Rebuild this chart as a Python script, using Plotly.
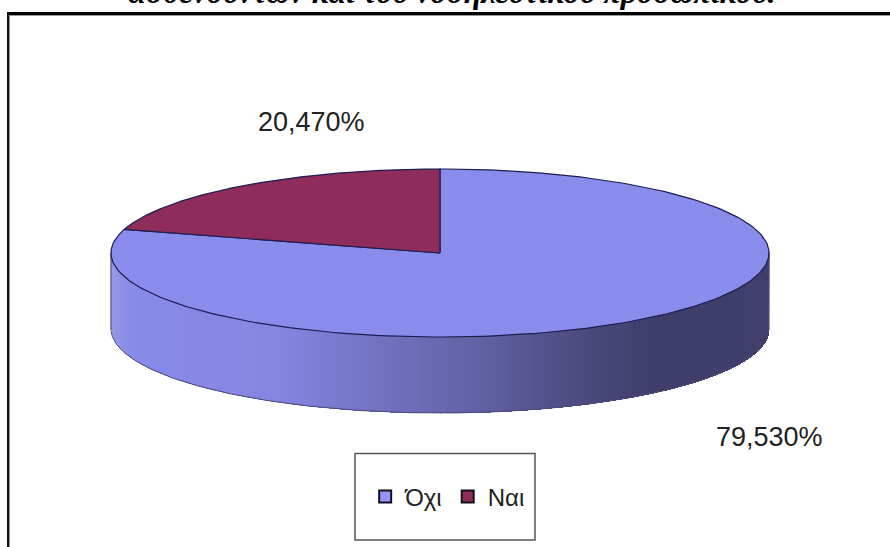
import numpy as np
import plotly.graph_objects as go

categories = ["Όχι", "Ναι"]
values = [79.53, 20.47]
value_labels = ["79,530%", "20,470%"]
slice_colors = ["#8a8cec", "#8e2c5c"]
legend_colors = ["#9496fa", "#8e2c5c"]
title_text = "ασθενούντων και του νοσηλευτικού προσωπικού."

W, H = 890, 547
cx, cy, rx, ry, depth = 440, 253, 329, 84, 76
outline = "#1c1c50"


def pt(a, dy=0.0):
    a = np.asarray(a)
    return cx + rx * np.sin(a), cy - ry * np.cos(a) + dy


side_scale = [[0.0, "rgb(150,152,232)"], [0.03, "rgb(136,138,232)"], [0.25, "rgb(132,134,224)"],
              [0.42, "rgb(112,112,190)"], [0.55, "rgb(98,98,166)"], [0.7, "rgb(78,76,130)"],
              [0.83, "rgb(62,60,104)"], [1.0, "rgb(64,62,108)"]]

fig = go.Figure()

# side wall: one horizontal shading ramp, masked to the wall of the cylinder
gx = np.arange(cx - rx, cx + rx + 1.0)
gy = np.arange(cy - 2, cy + ry + depth + 1.0)
X, Y = np.meshgrid(gx, gy)
inside = 1 - ((X - cx) / rx) ** 2
lower = cy + ry * np.sqrt(np.clip(inside, 0, 1)) + depth
Z = (X - gx[0]) / (gx[-1] - gx[0])
Z = np.where((Y <= lower) & (Y >= cy - 1), Z, np.nan)
fig.add_trace(go.Heatmap(x=gx, y=gy, z=Z, colorscale=side_scale, zmin=0, zmax=1,
                         showscale=False, hoverinfo="skip"))

# side wall silhouette
arc = np.linspace(np.pi / 2, 3 * np.pi / 2, 200)
xb, yb = pt(arc, depth)
xl, yl = pt(arc)
fig.add_trace(go.Scatter(x=np.r_[xl[0], xb, xl[-1]], y=np.r_[yl[0], yb, yl[-1]], mode="lines",
                         line=dict(color="#4a4a7a", width=1), hoverinfo="skip", showlegend=False))

# top slices: clockwise from the top, small slice ends at 12 o'clock
total = sum(values)
start = 0.0
for name, v, col in zip(categories, values, slice_colors):
    end = start + 2 * np.pi * v / total
    a = np.linspace(start, end, 240)
    x, y = pt(a)
    fig.add_trace(go.Scatter(x=np.r_[cx, x, cx], y=np.r_[cy, y, cy], fill="toself", mode="lines",
                             fillcolor=col, line=dict(color=outline, width=1.2),
                             name=name, showlegend=False, hoverinfo="name"))
    start = end

# legend entries
for name, col in zip(categories, legend_colors):
    fig.add_trace(go.Scatter(x=[None], y=[None], mode="markers", name=name,
                             marker=dict(symbol="square", size=12, color=col,
                                         line=dict(color="#101018", width=2))))

ann = [
    dict(x=311, y=122, text=value_labels[1]),
    dict(x=769, y=437, text=value_labels[0]),
]
annotations = [dict(a, xref="x", yref="y", showarrow=False,
                    font=dict(family="Liberation Sans", size=27, color="#222222")) for a in ann]
annotations.append(dict(x=452, y=1, yshift=9, xref="x", yref="y", text="<b><i>%s</i></b>" % title_text,
                        showarrow=False, yanchor="middle",
                        font=dict(family="Liberation Serif", size=32, color="#000000")))

shapes = [
    dict(type="line", x0=7, x1=W, y0=13.5, y1=13.5, xref="x", yref="y", line=dict(color="#000", width=3)),
    dict(type="line", x0=8, x1=8, y0=12, y1=H, xref="x", yref="y", line=dict(color="#111", width=2)),
    dict(type="line", x0=9.5, x1=W, y0=15.5, y1=15.5, xref="x", yref="y", line=dict(color="#999", width=1)),
    dict(type="line", x0=9.5, x1=9.5, y0=15, y1=H, xref="x", yref="y", line=dict(color="#999", width=1)),
    dict(type="rect", x0=355, x1=535, y0=453.5, y1=540, xref="x", yref="y", line=dict(color="#555", width=1.5)),
]

fig.update_layout(
    width=W, height=H, autosize=False, margin=dict(l=0, r=0, t=0, b=0),
    paper_bgcolor="white", plot_bgcolor="white",
    xaxis=dict(range=[0, W], visible=False, fixedrange=True),
    yaxis=dict(range=[H, 0], visible=False, fixedrange=True),
    annotations=annotations, shapes=shapes,
    legend=dict(orientation="h", x=0.503, xanchor="center", y=1 - 497 / H, yanchor="middle",
                bgcolor="rgba(0,0,0,0)", font=dict(family="Liberation Sans", size=24, color="#222222"),
                itemwidth=30),
)
fig.write_html("out.html", config=dict(displayModeBar=False),
               post_script="document.body.style.margin='0';document.body.style.overflow='hidden';")
